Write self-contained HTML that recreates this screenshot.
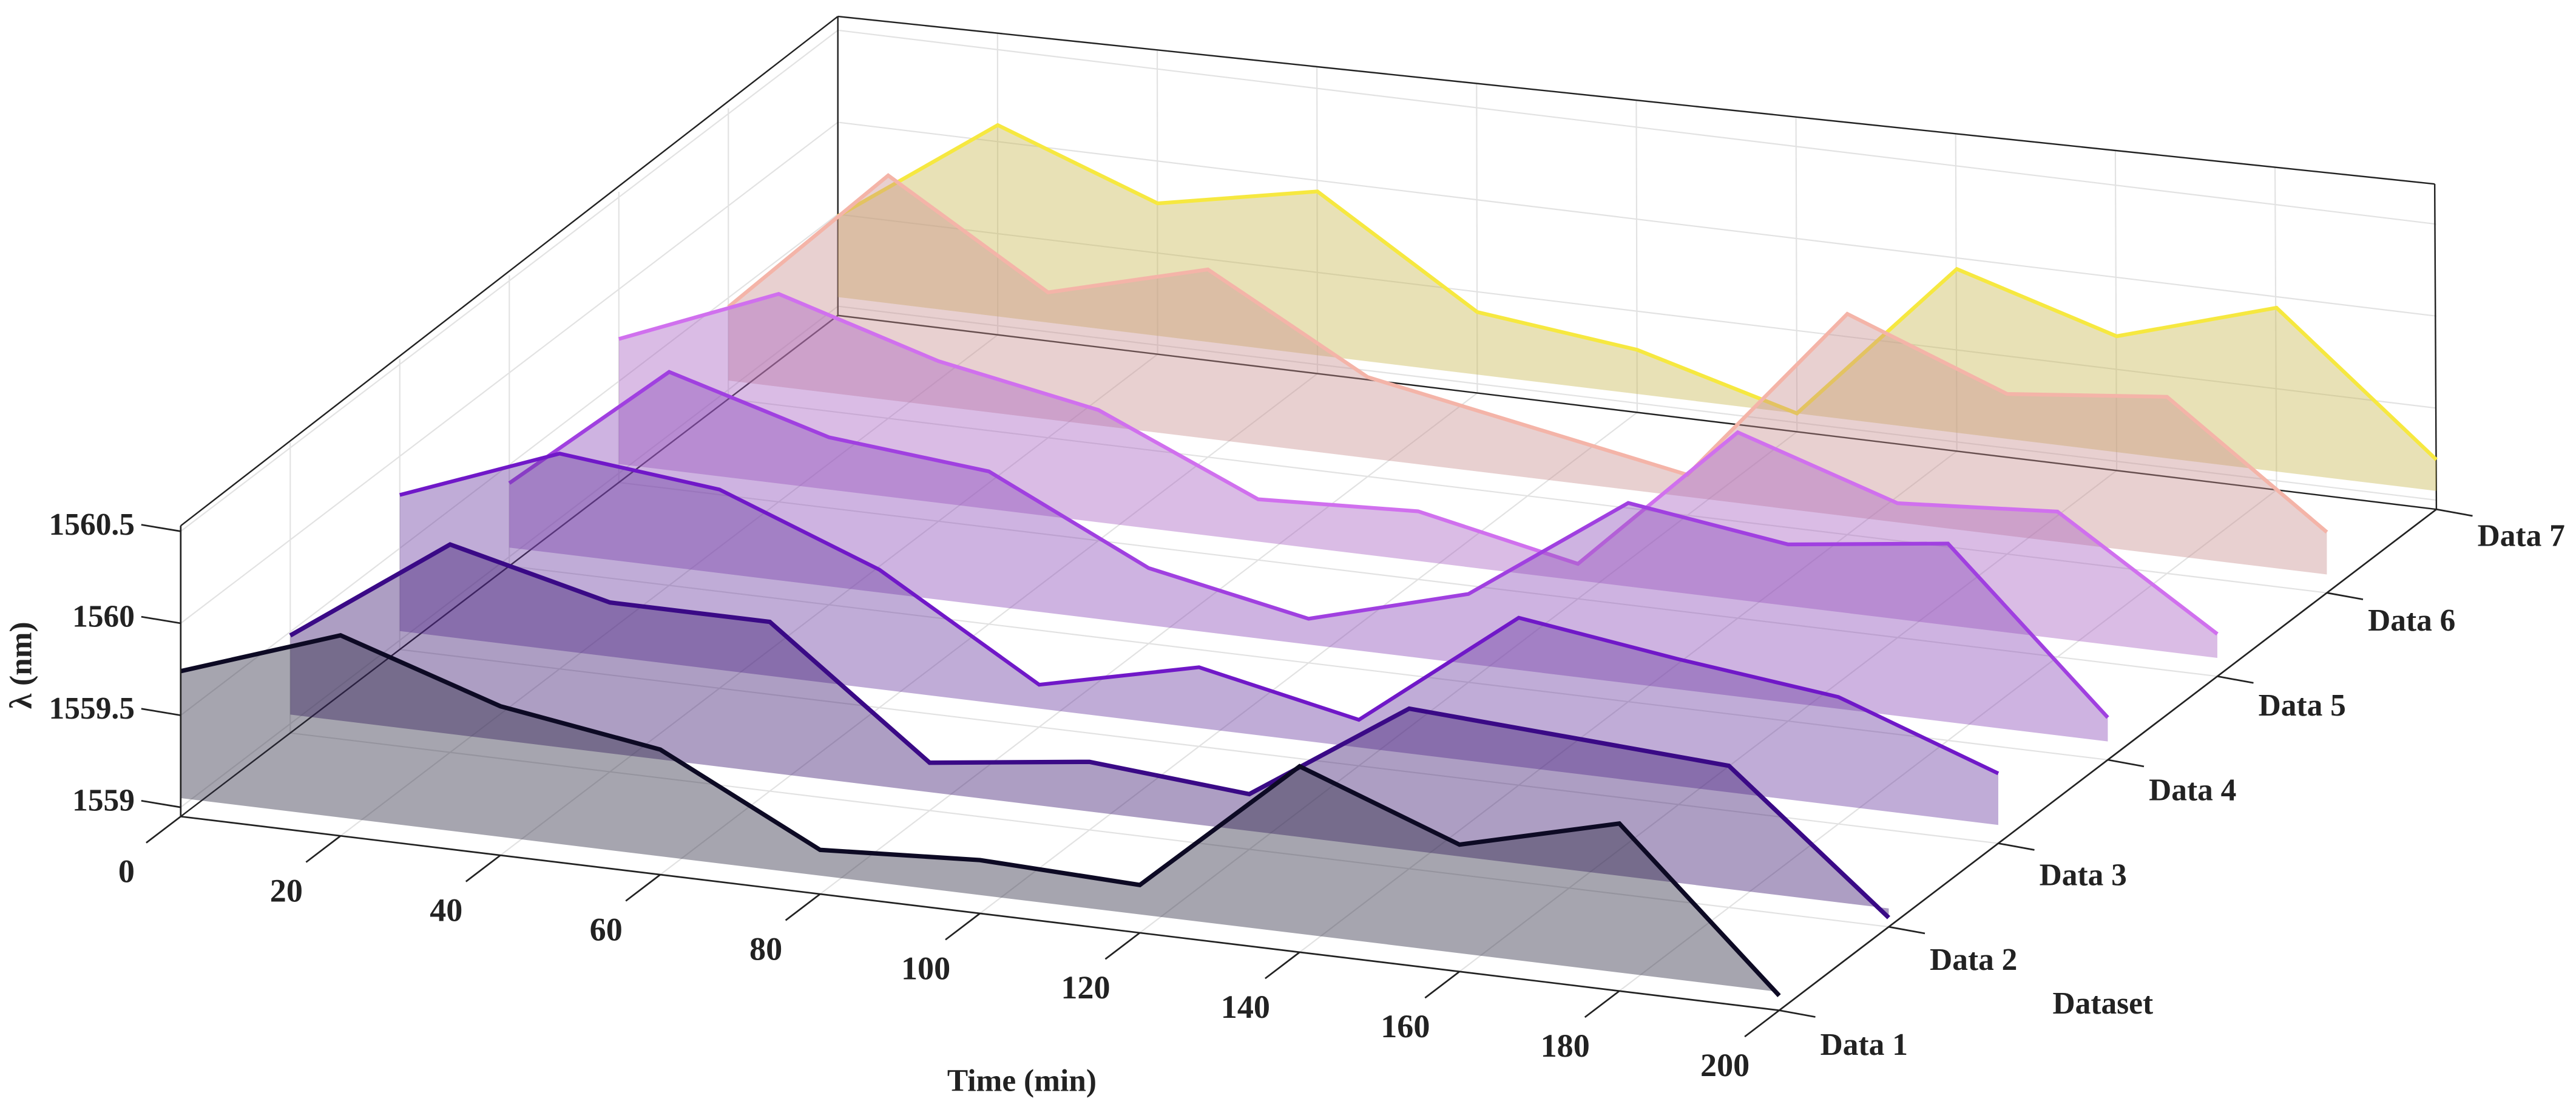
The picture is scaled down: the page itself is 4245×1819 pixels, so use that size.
<!DOCTYPE html>
<html><head><meta charset="utf-8">
<style>
html,body{margin:0;padding:0;background:#fff;}
svg{display:block;}
text{font-family:"Liberation Serif",serif;font-weight:bold;fill:#222;}
</style></head>
<body>
<svg id="chart" width="4245" height="1819" viewBox="0 0 1568 672" preserveAspectRatio="none" xmlns="http://www.w3.org/2000/svg">
<g id="grid"></g>
<g id="series"></g>
<g id="front"></g>
<text x="622" y="664" font-size="19" text-anchor="middle">Time (min)</text>
<text x="1280" y="617" font-size="19" text-anchor="middle">Dataset</text>
<text transform="translate(19,405) rotate(-90)" font-size="19" text-anchor="middle">λ (nm)</text>
</svg>
<script>
const times = [0,20,40,60,80,100,120,140,160,180,200];
const datasetLabels = ["Data 1","Data 2","Data 3","Data 4","Data 5","Data 6","Data 7"];
const data1 = [1559.74,1560.04,1559.76,1559.63,1559.19,1559.24,1559.21,1559.96,1559.64,1559.86,1559.03];
const data2 = [1559.48,1560.08,1559.87,1559.87,1559.21,1559.32,1559.25,1559.82,1559.77,1559.72,1559.00];
const data3 = [1559.79,1560.12,1560.03,1559.70,1559.18,1559.38,1559.20,1559.86,1559.74,1559.64,1559.33];
const data4 = [1559.40,1560.11,1559.86,1559.78,1559.36,1559.19,1559.43,1560.03,1559.91,1560.02,1559.18];
const data5 = [1559.73,1560.08,1559.82,1559.66,1559.28,1559.32,1559.14,1559.96,1559.68,1559.74,1559.18];
const data6 = [1559.45,1560.27,1559.74,1559.97,1559.49,1559.33,1559.17,1560.15,1559.82,1559.91,1559.28];
const data7 = [1559.49,1560.09,1559.77,1559.94,1559.39,1559.29,1559.05,1559.94,1559.68,1559.94,1559.22];
const series = [data1,data2,data3,data4,data5,data6,data7];
const zTicks = [1559,1559.5,1560,1560.5];
const zTickLabels = ["1559","1559.5","1560","1560.5"];
const tTicks = [0,20,40,60,80,100,120,140,160,180,200];

const lineColors = ["#0d0a24","#3a0a86","#7018c8","#a040e0","#d070ee","#f4b4a8","#f6e840"];
const fillColors = ["#2a2840","#3c1870","#6a3aa0","#8a4ab8","#a860c0","#c89090","#c8b850"];

const ZMIN=1558.95, ZMAX=1560.53, BASE=1559.05;
const O=[110,497];
function P(t,d,z){
  return [O[0]+t*4.865+d*66.67, O[1]+t*0.59-d*50.83-(z-ZMIN)*112];
}
const NS="http://www.w3.org/2000/svg";
function mk(tag,parent,attrs){const e=document.createElementNS(NS,tag);for(const k in attrs)e.setAttribute(k,attrs[k]);parent.appendChild(e);return e;}
function ln(parent,a,b,stroke,w){return mk("line",parent,{x1:a[0],y1:a[1],x2:b[0],y2:b[1],stroke:stroke,"stroke-width":w});}
const grid=document.getElementById("grid"), sg=document.getElementById("series"), front=document.getElementById("front");
const DMAX=6;
const gc="#e2e2e2";
const BLT=[510,10], BRT=[1482,112];
tTicks.forEach(t=>{const l=ln(grid,P(t,0,ZMIN),P(t,DMAX,ZMIN),gc,0.8);

});
for(let d=0;d<=DMAX;d++){const l=ln(grid,P(0,d,ZMIN),P(200,d,ZMIN),gc,0.8);

}
tTicks.forEach(t=>{const b=P(t,DMAX,ZMIN);const f=t/200;const top=[BLT[0]+f*(BRT[0]-BLT[0]),BLT[1]+f*(BRT[1]-BLT[1])];
const l=ln(grid,b,top,gc,0.8);

});
zTicks.forEach(z=>{const l=ln(grid,P(0,DMAX,z),P(200,DMAX,z),gc,0.8);

});
for(let d=0;d<=DMAX;d++){const l=ln(grid,P(0,d,ZMIN),P(0,d,ZMAX),gc,0.8);

}
zTicks.forEach(z=>{const l=ln(grid,P(0,0,z),P(0,DMAX,z),gc,0.8);

});
[[P(0,DMAX,ZMIN),BLT],[P(0,0,ZMAX),BLT],[BLT,BRT],[P(200,DMAX,ZMIN),BRT],[P(0,DMAX,ZMIN),P(200,DMAX,ZMIN)],[P(0,0,ZMIN),P(0,DMAX,ZMIN)]].forEach(s=>{
const l=ln(grid,s[0],s[1],"#222",0.9);

});
for(let d=DMAX;d>=0;d--){
  const vals=series[d];
  const top=times.map((t,i)=>P(t,d,vals[i]));
  const poly=top.concat([P(200,d,BASE),P(0,d,BASE)]);
  const f=mk("polygon",sg,{points:poly.map(p=>p.join(",")).join(" "),fill:fillColors[d],"fill-opacity":0.42,stroke:"none"});
  
  
  const pl=mk("polyline",sg,{points:top.map(p=>p.join(",")).join(" "),fill:"none",stroke:lineColors[d],"stroke-width":d<2?2.7:2.3,"stroke-linejoin":"miter"});
  
  
}
[[P(0,0,ZMIN),P(200,0,ZMIN)],[P(200,0,ZMIN),P(200,DMAX,ZMIN)],[P(0,0,ZMIN),P(0,0,ZMAX)]].forEach(s=>{
const l=ln(front,s[0],s[1],"#222",1);

});
tTicks.forEach(t=>{
  const a=P(t,0,ZMIN);
  const l=ln(front,a,[a[0]-21,a[1]+16],"#222",1);
  
  
  const tx=mk("text",front,{x:a[0]-33,y:a[1]+40,"font-size":20,"text-anchor":"middle"});
  tx.textContent=String(t);
  
  
});
zTicks.forEach((z,i)=>{
  const a=P(0,0,z);
  const l=ln(front,a,[a[0]-24,a[1]-4],"#222",1);
  
  
  const tx=mk("text",front,{x:a[0]-28,y:a[1]+2,"font-size":19,"text-anchor":"end"});
  tx.textContent=zTickLabels[i];
  
  
});
datasetLabels.forEach((lab,d)=>{
  const a=P(200,d,ZMIN);
  const l=ln(front,a,[a[0]+22,a[1]+4],"#222",1);
  
  
  const tx=mk("text",front,{x:a[0]+25,y:a[1]+27-d*0.8,"font-size":19,"text-anchor":"start"});
  tx.textContent=lab;
  
  
});
</script>
</body></html>
